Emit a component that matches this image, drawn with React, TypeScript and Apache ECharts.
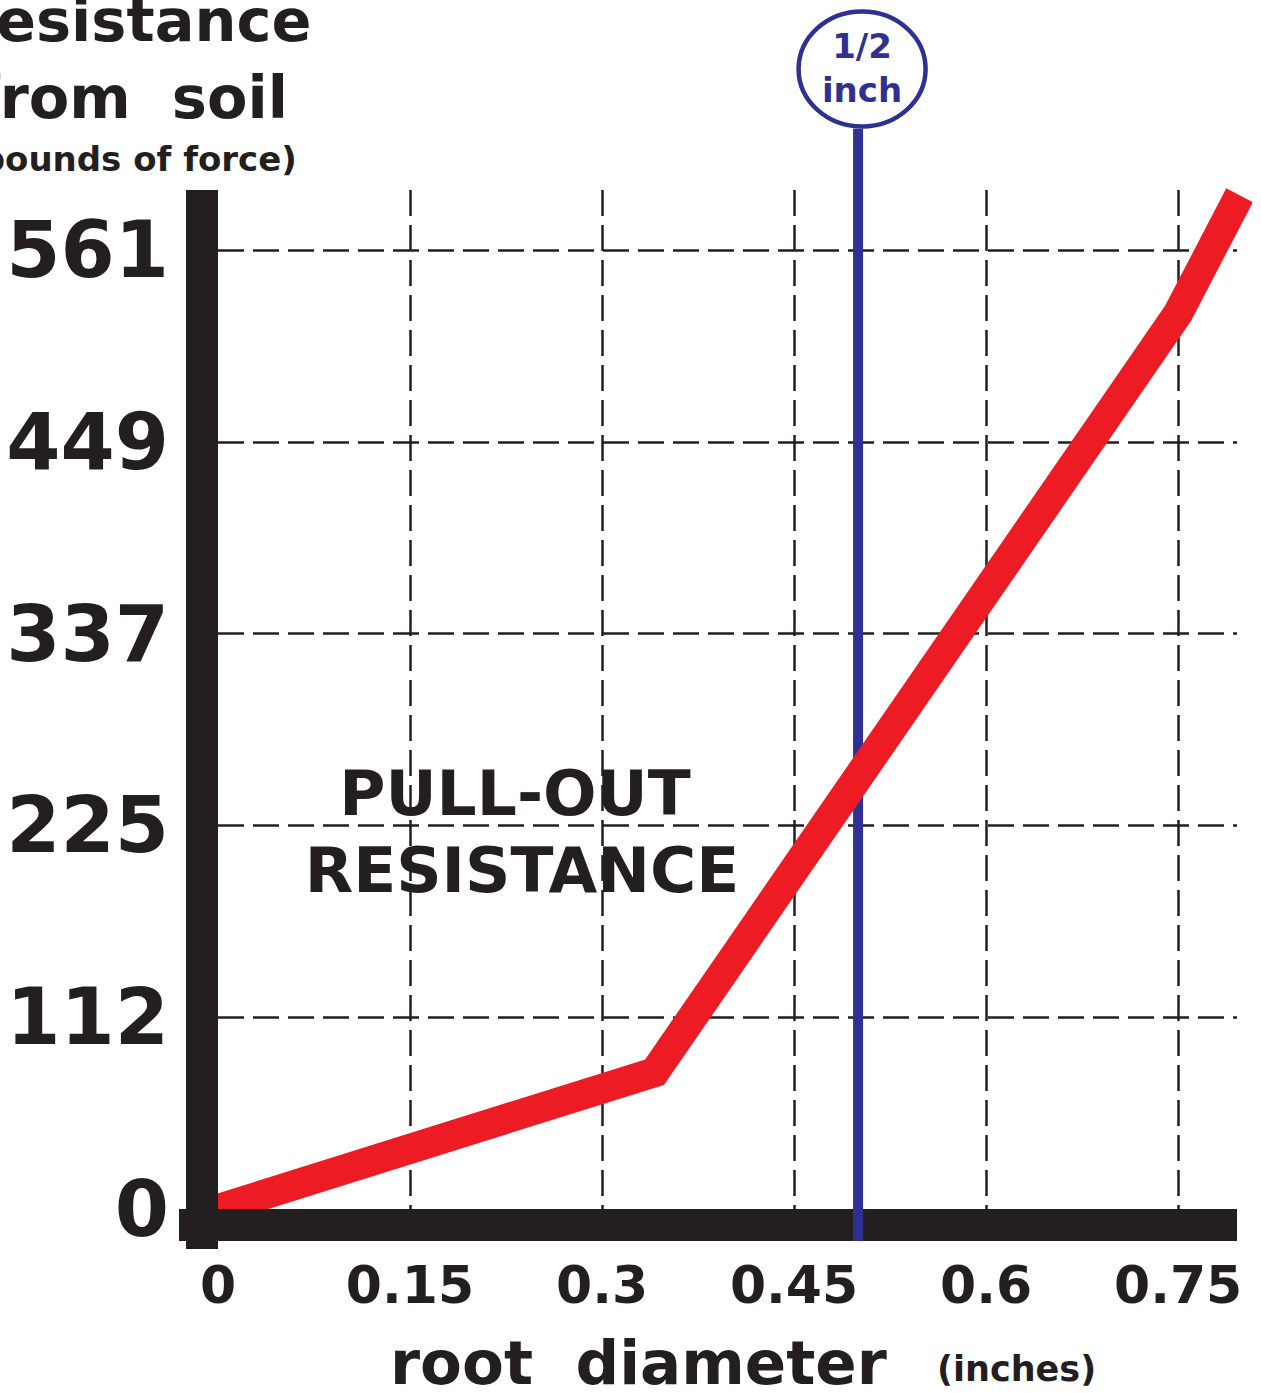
import React, { useEffect, useRef } from "react";
import * as echarts from "echarts";

// ---- data ----
const xTickValues = [0, 0.15, 0.3, 0.45, 0.6, 0.75];
const yTickLabels = ["0", "112", "225", "337", "449", "561"];
const yStep = 112.2;
const diameters = [0, 0.341, 0.75, 0.798];
const resistance = [0, 80, 524, 593];
const markerX = 0.5;
const markerBottom = -18.7;
const markerTop = 632;
const markerLabel = ["1/2", "inch"];
const yTitle = ["Resistance", "from  soil", "(pounds of force)"];
const xTitle = "root  diameter";
const xUnit = "(inches)";
const inset = ["PULL-OUT", "RESISTANCE"];

const X_MAX = 0.796;
const Y_MAX = 596.1;

const BLACK = "#231f20";
const RED = "#ed1c24";
const BLUE = "#2e3192";
const FONT = "DejaVu Sans";

const W = 1261;
const H = 1393;
const GRID = { left: 218, top: 190, right: 24, bottom: 184 };

export default function App() {
  const ref = useRef<HTMLDivElement>(null);
  useEffect(() => {
    if (!ref.current) return;
    const chart = echarts.init(ref.current, undefined, { renderer: "svg" });
    const dash = { color: BLACK, width: 2.5, type: [26, 9] as any };
    chart.setOption({
      animation: false,
      backgroundColor: "#ffffff",
      grid: { ...GRID, containLabel: false },
      xAxis: {
        type: "value",
        min: 0,
        max: X_MAX,
        interval: 0.15,
        z: 1,
        axisLine: { show: false },
        axisTick: { show: false },
        splitLine: { show: true, showMinLine: false, showMaxLine: false, lineStyle: dash },
        axisLabel: {
          showMaxLabel: false,
          margin: 50,
          color: BLACK,
          fontFamily: FONT,
          fontWeight: "bold",
          fontSize: 52,
          formatter: (v: number) => {
            const t = xTickValues.find((x) => Math.abs(x - v) < 1e-6);
            return t === undefined ? "" : String(t);
          },
        },
      },
      yAxis: {
        type: "value",
        min: 0,
        max: Y_MAX,
        interval: yStep,
        z: 1,
        axisLine: { show: false },
        axisTick: { show: false },
        splitLine: { show: true, showMinLine: false, showMaxLine: false, lineStyle: dash },
        axisLabel: {
          showMaxLabel: false,
          margin: 49,
          color: BLACK,
          fontFamily: FONT,
          fontWeight: "bold",
          fontSize: 78,
          formatter: (v: number) => yTickLabels[Math.round(v / yStep)] ?? "",
        },
      },
      series: [
        {
          type: "line",
          name: "half inch",
          data: [
            [markerX, 0],
            [markerX, markerTop],
          ],
          symbol: "none",
          clip: false,
          silent: true,
          z: 2,
          lineStyle: { color: BLUE, width: 10, cap: "butt" },
        },
        {
          type: "line",
          name: "half inch over axis",
          data: [
            [markerX, markerBottom],
            [markerX, 0],
          ],
          symbol: "none",
          clip: false,
          silent: true,
          z: 5,
          lineStyle: { color: BLUE, width: 10, cap: "butt" },
        },
        {
          type: "line",
          name: "pull-out resistance",
          data: diameters.map((d, i) => [d, resistance[i]]),
          symbol: "none",
          clip: false,
          silent: true,
          z: 3,
          lineStyle: { color: RED, width: 30, cap: "butt", join: "miter" },
        },
      ],
    });

    const [x0, y0] = chart.convertToPixel({ gridIndex: 0 }, [0, 0]) as number[];
    const [x1, y1] = chart.convertToPixel({ gridIndex: 0 }, [X_MAX, Y_MAX]) as number[];
    const [mx] = chart.convertToPixel({ gridIndex: 0 }, [markerX, 0]) as number[];
    const [, yb] = chart.convertToPixel({ gridIndex: 0 }, [0, markerBottom]) as number[];

    const txt = (text: string, x: number, y: number, size: number, align: string, color = BLACK, z = 8) => ({
      type: "text",
      z,
      silent: true,
      style: {
        text,
        x,
        y,
        fill: color,
        fontFamily: FONT,
        fontWeight: "bold",
        fontSize: size,
        align,
        verticalAlign: "middle",
      },
    });

    chart.setOption({
      graphic: [
        // axis bars
        { type: "rect", z: 4, silent: true, shape: { x: x0 - 32, y: y1, width: 32, height: yb + 8 - y1 }, style: { fill: BLACK } },
        { type: "rect", z: 4, silent: true, shape: { x: x0 - 39, y: y0, width: x1 - x0 + 39, height: yb - y0 }, style: { fill: BLACK } },
        // marker circle
        { type: "ellipse", z: 6, silent: true, shape: { cx: mx + 4, cy: 69, rx: 63.5, ry: 57.5 }, style: { fill: "#ffffff", stroke: BLUE, lineWidth: 4.5 } },
        txt(markerLabel[0], mx + 4, 46, 34, "center", BLUE, 7),
        txt(markerLabel[1], mx + 4, 90, 34, "center", BLUE, 7),
        // y title
        txt(yTitle[0], 131, 20, 59, "center"),
        txt(yTitle[1], 131, 97, 59, "center"),
        txt(yTitle[2], 131, 159, 34, "center"),
        // x title
        txt(xTitle, 390, 1362, 61, "left"),
        txt(xUnit, 937, 1369, 35, "left"),
        // inset label (below grid lines)
        txt(inset[0], 515, 793, 63, "center", BLACK, 0),
        txt(inset[1], 522, 870, 63, "center", BLACK, 0),
      ],
    });

    return () => chart.dispose();
  }, []);
  return <div ref={ref} style={{ position: "absolute", left: 0, top: 0, width: W, height: H }} />;
}
